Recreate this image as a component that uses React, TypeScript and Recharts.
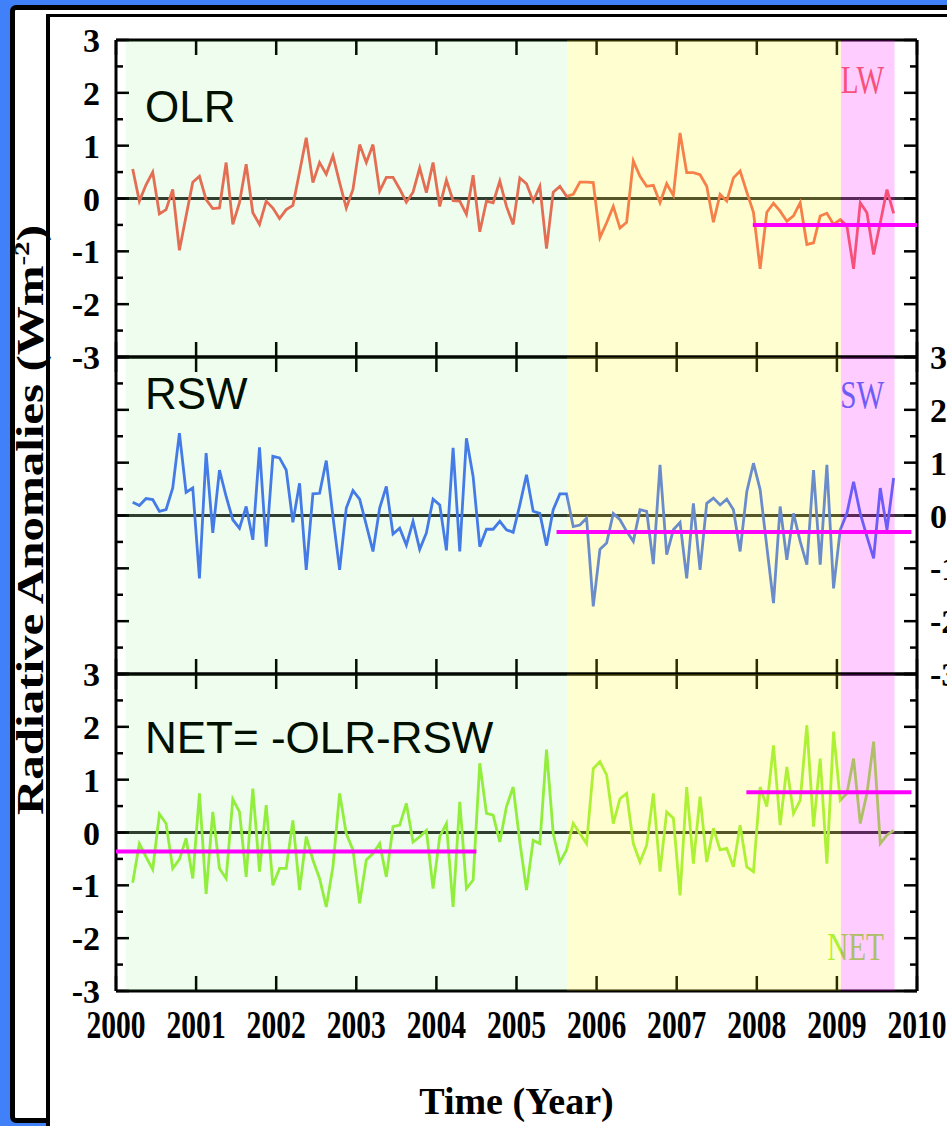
import React from 'react';
import { LineChart, Line, XAxis, YAxis, ReferenceLine, ReferenceArea } from 'recharts';

// ── Data ──────────────────────────────────────────────────────
// Monthly anomalies, March 2000 … September 2009 (W m⁻²)

const START_YEAR = 2000;
const START_MONTH = 3;

const OLR = [
  0.56, -0.05, 0.26, 0.5, -0.29, -0.21, 0.17, -0.98, -0.33, 0.31,
  0.42, -0.02, -0.19, -0.18, 0.68, -0.49, -0.08, 0.65, -0.27, -0.49,
  -0.05, -0.18, -0.38, -0.21, -0.13, 0.5, 1.15, 0.3, 0.68, 0.46,
  0.81, 0.3, -0.18, 0.17, 1.02, 0.68, 1.02, 0.14, 0.4, 0.4,
  0.18, -0.07, 0.12, 0.58, 0.11, 0.68, -0.15, 0.35, -0.04, -0.05,
  -0.3, 0.44, -0.63, -0.05, -0.08, 0.33, -0.15, -0.49, 0.39, 0.28,
  -0.05, 0.23, -0.95, 0.12, 0.23, 0.04, 0.08, 0.31, 0.31, 0.3,
  -0.74, -0.46, -0.15, -0.56, -0.45, 0.71, 0.42, 0.23, 0.25, -0.08,
  0.28, 0.06, 1.24, 0.49, 0.49, 0.45, 0.23, -0.45, 0.08, -0.05,
  0.39, 0.52, 0.12, -0.26, -1.33, -0.26, -0.09, -0.24, -0.43, -0.33,
  -0.08, -0.87, -0.84, -0.33, -0.28, -0.49, -0.4, -0.52, -1.33, -0.08,
  -0.27, -1.06, -0.46, 0.17, -0.28,
];

const RSW = [
  0.25, 0.19, 0.32, 0.3, 0.08, 0.11, 0.52, 1.56, 0.44, 0.52,
  -1.19, 1.18, -0.33, 0.86, 0.36, -0.08, -0.24, 0.17, -0.46, 1.29,
  -0.59, 1.12, 1.09, 0.86, -0.13, 0.61, -1.03, 0.41, 0.42, 1.04,
  -0.02, -1.03, 0.14, 0.47, 0.31, -0.18, -0.68, 0.14, 0.55, -0.35,
  -0.24, -0.56, -0.11, -0.64, -0.33, 0.31, 0.2, -0.66, 1.28, -0.68,
  1.46, 0.74, -0.59, -0.26, -0.26, -0.11, -0.27, -0.32, 0.2, 0.77,
  0.08, 0.04, -0.57, 0.11, 0.41, 0.41, -0.21, -0.18, -0.05, -1.72,
  -0.64, -0.52, 0.04, -0.08, -0.3, -0.49, 0.11, 0.08, -0.92, 0.96,
  -0.74, -0.27, -0.13, -1.19, 0.23, -1.03, 0.23, 0.33, 0.2, 0.31,
  0.11, -0.68, 0.45, 0.99, 0.49, -0.59, -1.66, 0.17, -0.84, 0.04,
  -0.49, -0.93, 0.86, -0.93, 0.96, -1.38, -0.27, 0.04, 0.64, 0.04,
  -0.4, -0.81, 0.52, -0.27, 0.71,
];

const NET = [
  -0.95, -0.21, -0.46, -0.7, 0.35, 0.17, -0.68, -0.51, -0.11, -0.87,
  0.74, -1.16, 0.39, -0.68, -0.87, 0.63, 0.39, -0.84, 0.83, -0.74,
  0.52, -1.0, -0.68, -0.68, 0.23, -1.09, -0.08, -0.52, -0.87, -1.41,
  -0.65, 0.74, -0.02, -0.33, -1.34, -0.52, -0.4, -0.21, -0.84, 0.11,
  0.14, 0.55, -0.18, -0.08, 0.04, -1.06, -0.08, 0.17, -1.41, 0.58,
  -1.06, -0.9, 1.31, 0.36, 0.33, -0.18, 0.49, 0.86, -0.18, -1.09,
  -0.15, -0.21, 1.57, -0.02, -0.56, -0.33, 0.17, -0.02, -0.21, 1.21,
  1.34, 1.09, 0.17, 0.64, 0.74, -0.21, -0.56, -0.24, 0.74, -0.74,
  0.39, 0.27, -1.19, 0.86, -0.59, 0.68, -0.56, 0.08, -0.33, -0.3,
  -0.65, 0.14, -0.65, -0.74, 0.86, 0.49, 1.65, 0.14, 1.24, 0.36,
  0.61, 2.03, 0.11, 1.4, -0.59, 1.91, 0.61, 0.74, 1.4, 0.17,
  0.74, 1.72, -0.21, -0.05, 0.04,
];

const YEAR_TICKS = [2000, 2001, 2002, 2003, 2004, 2005, 2006, 2007, 2008, 2009, 2010];
const Y_TICKS = [-3, -2.5, -2, -1.5, -1, -0.5, 0, 0.5, 1, 1.5, 2, 2.5, 3];

// shaded periods (decimal years)
const PERIODS = [
  { from: 2000.12, to: 2005.63, fill: '#10e000', opacity: 0.07 },
  { from: 2005.63, to: 2009.05, fill: '#fffc00', opacity: 0.18 },
  { from: 2009.05, to: 2009.72, fill: '#ff00ff', opacity: 0.2 },
];

// period means drawn in magenta
const OLR_MEANS = [{ from: 2007.95, to: 2010, value: -0.5 }];
const RSW_MEANS = [{ from: 2005.5, to: 2009.93, value: -0.31 }];
const NET_MEANS = [
  { from: 2000, to: 2004.5, value: -0.36 },
  { from: 2007.87, to: 2009.93, value: 0.76 },
];

// ── Layout ────────────────────────────────────────────────────

const W = 947;
const PLOT_L = 116;
const PLOT_R = 917;
const TOP0 = 40;
const PANEL_H = 317;
const PAD = 25;

// axis boxes (the plot area = margins + these)
const Y_W = 60;
const YR_W = 30;
const X_H = 10;

const SERIF = '"Liberation Serif", "Times New Roman", serif';
const SANS = '"Liberation Sans", Arial, sans-serif';

const toSeries = (values: number[]) =>
  values.map((v, i) => ({ t: START_YEAR + (START_MONTH - 1 + i + 0.5) / 12, v }));

interface PanelProps {
  index: number;
  values: number[];
  color: string;
  name: string;
  tag: string;
  nameBaseline: number;
  tagBaseline: number;
  means: { from: number; to: number; value: number }[];
  leftLabels?: boolean;
  rightLabels?: boolean;
  yearLabels?: boolean;
}

function Panel({ index, values, color, name, tag, nameBaseline, tagBaseline, means, leftLabels, rightLabels, yearLabels }: PanelProps) {
    const data = toSeries(values);
    const bottomPad = yearLabels ? 70 : PAD;
    const height = PAD + PANEL_H + bottomPad;
    const top = TOP0 + index * PANEL_H - PAD;
    const plotTop = PAD;
    const plotBottom = PAD + PANEL_H;
    const margin = {
        top: PAD - X_H,
        bottom: bottomPad - X_H,
        left: PLOT_L - Y_W,
        right: W - PLOT_R - YR_W,
    };

    const leftTick = (p: any) => {
        const major = Number.isInteger(p.payload.value);
        return (
            <g>
                <line x1={PLOT_L} x2={PLOT_L + (major ? 13 : 7)} y1={p.y} y2={p.y} stroke="#000" strokeWidth={2.5} />
                {leftLabels && major && (
                    <text x={PLOT_L - 16} y={p.y} dy={12} textAnchor="end" fontFamily={SERIF} fontWeight="bold" fontSize={34} fill="#000">
                        {p.payload.value}
                    </text>
                )}
            </g>
        );
    };

    const rightTick = (p: any) => {
        const major = Number.isInteger(p.payload.value);
        return (
            <g>
                <line x1={PLOT_R} x2={PLOT_R - (major ? 13 : 7)} y1={p.y} y2={p.y} stroke="#000" strokeWidth={2.5} />
                {rightLabels && major && (
                    <text x={PLOT_R + 13} y={p.y} dy={12} textAnchor="start" fontFamily={SERIF} fontWeight="bold" fontSize={34} fill="#000">
                        {p.payload.value}
                    </text>
                )}
            </g>
        );
    };

    const topTick = (p: any) => (
        <line x1={p.x} x2={p.x} y1={plotTop} y2={plotTop + 15} stroke="#000" strokeWidth={2.5} />
    );

    const bottomTick = (p: any) => (
        <g>
            <line x1={p.x} x2={p.x} y1={plotBottom} y2={plotBottom - 15} stroke="#000" strokeWidth={2.5} />
            {yearLabels && (
                <text transform={`translate(${p.x},${plotBottom + 47}) scale(0.74,1)`} textAnchor="middle"
                    fontFamily={SERIF} fontWeight="bold" fontSize={40} fill="#000">
                    {p.payload.value}
                </text>
            )}
        </g>
    );

    const frame = { stroke: '#000', strokeWidth: 3 };

    const axes = (show: boolean) => [
        <XAxis key="xb" type="number" dataKey="t" domain={[2000, 2010]} ticks={YEAR_TICKS} interval={0}
            height={X_H} axisLine={show ? frame : false} tickLine={false} tick={show ? bottomTick : false} allowDataOverflow />,
        <XAxis key="xt" xAxisId="top" orientation="top" type="number" dataKey="t" domain={[2000, 2010]} ticks={YEAR_TICKS}
            interval={0} height={X_H} axisLine={show ? frame : false} tickLine={false} tick={show ? topTick : false} allowDataOverflow />,
        <YAxis key="yl" type="number" domain={[-3, 3]} ticks={Y_TICKS} interval={0} width={Y_W}
            axisLine={show ? frame : false} tickLine={false} tick={show ? leftTick : false} allowDataOverflow />,
        <YAxis key="yr" yAxisId="right" orientation="right" type="number" domain={[-3, 3]} ticks={Y_TICKS} interval={0}
            width={YR_W} axisLine={show ? frame : false} tickLine={false} tick={show ? rightTick : false} allowDataOverflow />,
    ];

    return (
        <>
            {/* series, axes and labels */}
            <div style={{ position: 'absolute', left: 0, top }}>
                <LineChart width={W} height={height} margin={margin} data={data}>
                    {axes(true)}
                    <ReferenceLine y={0} stroke="#333" strokeWidth={3} />
                    <Line type="linear" dataKey="v" stroke={color} strokeWidth={2.8} dot={false} activeDot={false}
                        isAnimationActive={false} />
                    <text x={145} y={plotTop + nameBaseline} fontFamily={SANS} fontSize={44} fill="#000">{name}</text>
                    <text transform={`translate(884,${plotTop + tagBaseline}) scale(0.75,1)`} textAnchor="end"
                        fontFamily={SERIF} fontSize={39} fill={color}>{tag}</text>
                </LineChart>
            </div>
            {/* translucent period shading and magenta means on top */}
            <div style={{ position: 'absolute', left: 0, top }}>
                <LineChart width={W} height={height} margin={margin} data={data}>
                    {axes(false)}
                    {PERIODS.map(p => (
                        <ReferenceArea key={p.from} x1={p.from} x2={p.to} y1={-3} y2={3} fill={p.fill}
                            fillOpacity={p.opacity} stroke="none" ifOverflow="extendDomain" />
                    ))}
                    {means.map(m => (
                        <ReferenceLine key={m.from} segment={[{ x: m.from, y: m.value }, { x: m.to, y: m.value }]}
                            stroke="#ff00ff" strokeWidth={4} />
                    ))}
                </LineChart>
            </div>
        </>
    );
}

export default function App() {
    return (
        <div style={{ position: 'absolute', left: 0, top: 0, width: W, height: 1126, overflow: 'hidden', background: '#4080f8' }}>
            {/* slide frame */}
            <div style={{
                position: 'absolute', left: 10, top: 5, width: 1000, height: 1118, boxSizing: 'border-box',
                border: '5px solid #000', borderRadius: 6, background: '#fff',
            }} />
            <div style={{
                position: 'absolute', left: 46, top: 14, width: 1000, height: 1200, boxSizing: 'border-box',
                borderLeft: '4px solid #000', borderTop: '3px solid #000', background: '#fff',
            }} />

            {/* axis titles */}
            <svg width={W} height={1126} style={{ position: 'absolute', left: 0, top: 0 }}>
                <text transform="translate(43,815) rotate(-90)" fontFamily={SERIF} fontWeight="bold" fontSize={37}
                    textLength={590} lengthAdjust="spacingAndGlyphs" fill="#000">
                    Radiative Anomalies (Wm<tspan fontSize={22} dy={-14}>-2</tspan><tspan dy={14}>)</tspan>
                </text>
                <text x={(PLOT_L + PLOT_R) / 2} y={1114} textAnchor="middle" fontFamily={SERIF} fontWeight="bold"
                    fontSize={38} fill="#000">
                    Time (Year)
                </text>
            </svg>

            <Panel index={0} values={OLR} color="#f5665a" name="OLR" tag="LW" nameBaseline={82} tagBaseline={53}
                means={OLR_MEANS} leftLabels />
            <Panel index={1} values={RSW} color="#4a74f8" name="RSW" tag="SW" nameBaseline={52} tagBaseline={51}
                means={RSW_MEANS} rightLabels />
            <Panel index={2} values={NET} color="#9cef41" name="NET= -OLR-RSW" tag="NET" nameBaseline={79}
                tagBaseline={286} means={NET_MEANS} leftLabels yearLabels />
        </div>
    );
}
